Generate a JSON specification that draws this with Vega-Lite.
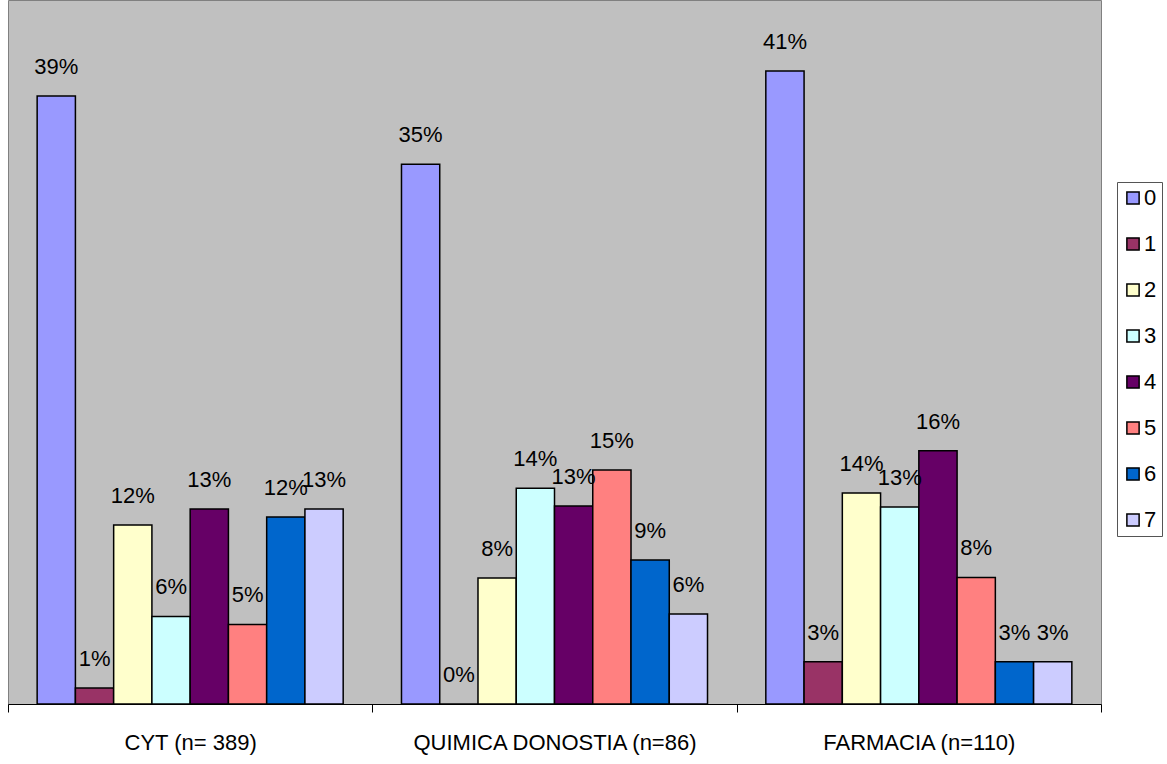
{
  "$schema": "https://vega.github.io/schema/vega-lite/v6.json",
  "width": 1093,
  "height": 704,
  "autosize": {"type": "none"},
  "padding": {"left": 8, "top": 0, "right": 66, "bottom": 60},
  "background": "white",
  "config": {
    "view": {"fill": "#C0C0C0", "stroke": "#808080", "strokeWidth": 1},
    "font": "Liberation Sans"
  },
  "data": {
    "values": [
      {"grupo": "CYT (n= 389)", "cat": "0", "pct": 39.3, "label": "39%"},
      {"grupo": "CYT (n= 389)", "cat": "1", "pct": 1.03, "label": "1%"},
      {"grupo": "CYT (n= 389)", "cat": "2", "pct": 11.57, "label": "12%"},
      {"grupo": "CYT (n= 389)", "cat": "3", "pct": 5.66, "label": "6%"},
      {"grupo": "CYT (n= 389)", "cat": "4", "pct": 12.6, "label": "13%"},
      {"grupo": "CYT (n= 389)", "cat": "5", "pct": 5.14, "label": "5%"},
      {"grupo": "CYT (n= 389)", "cat": "6", "pct": 12.08, "label": "12%"},
      {"grupo": "CYT (n= 389)", "cat": "7", "pct": 12.6, "label": "13%"},
      {"grupo": "QUIMICA DONOSTIA (n=86)", "cat": "0", "pct": 34.88, "label": "35%"},
      {"grupo": "QUIMICA DONOSTIA (n=86)", "cat": "1", "pct": 0, "label": "0%"},
      {"grupo": "QUIMICA DONOSTIA (n=86)", "cat": "2", "pct": 8.14, "label": "8%"},
      {"grupo": "QUIMICA DONOSTIA (n=86)", "cat": "3", "pct": 13.95, "label": "14%"},
      {"grupo": "QUIMICA DONOSTIA (n=86)", "cat": "4", "pct": 12.79, "label": "13%"},
      {"grupo": "QUIMICA DONOSTIA (n=86)", "cat": "5", "pct": 15.12, "label": "15%"},
      {"grupo": "QUIMICA DONOSTIA (n=86)", "cat": "6", "pct": 9.3, "label": "9%"},
      {"grupo": "QUIMICA DONOSTIA (n=86)", "cat": "7", "pct": 5.81, "label": "6%"},
      {"grupo": "FARMACIA (n=110)", "cat": "0", "pct": 40.91, "label": "41%"},
      {"grupo": "FARMACIA (n=110)", "cat": "1", "pct": 2.73, "label": "3%"},
      {"grupo": "FARMACIA (n=110)", "cat": "2", "pct": 13.64, "label": "14%"},
      {"grupo": "FARMACIA (n=110)", "cat": "3", "pct": 12.73, "label": "13%"},
      {"grupo": "FARMACIA (n=110)", "cat": "4", "pct": 16.36, "label": "16%"},
      {"grupo": "FARMACIA (n=110)", "cat": "5", "pct": 8.18, "label": "8%"},
      {"grupo": "FARMACIA (n=110)", "cat": "6", "pct": 2.73, "label": "3%"},
      {"grupo": "FARMACIA (n=110)", "cat": "7", "pct": 2.73, "label": "3%"}
    ]
  },
  "encoding": {
    "x": {
      "field": "grupo",
      "type": "nominal",
      "sort": null,
      "scale": {"paddingInner": 0, "paddingOuter": 0},
      "axis": {
        "title": null,
        "labelAngle": 0,
        "labelFontSize": 22,
        "labelColor": "#000000",
        "labelPadding": 20,
        "labelBaseline": "top",
        "labelLimit": 0,
        "domainColor": "#000000",
        "domainWidth": 1,
        "tickColor": "#000000",
        "tickSize": 8,
        "tickBand": "extent",
        "grid": false
      }
    },
    "xOffset": {
      "field": "cat",
      "type": "nominal",
      "scale": {"paddingInner": 0, "paddingOuter": 0.762}
    },
    "y": {
      "field": "pct",
      "type": "quantitative",
      "scale": {"domain": [0, 45.5], "nice": false, "zero": true},
      "axis": null
    }
  },
  "layer": [
    {
      "mark": {"type": "bar", "stroke": "#000000", "strokeWidth": 1.5},
      "encoding": {
        "color": {
          "field": "cat",
          "type": "nominal",
          "scale": {
            "domain": ["0", "1", "2", "3", "4", "5", "6", "7"],
            "range": ["#9999FF", "#993366", "#FFFFCC", "#CCFFFF", "#660066", "#FF8080", "#0066CC", "#CCCCFF"]
          },
          "legend": {
            "title": null,
            "orient": "none",
            "legendX": 1109,
            "legendY": 182,
            "fillColor": "#FFFFFF",
            "strokeColor": "#555555",
            "padding": 5,
            "symbolType": "square",
            "symbolSize": 150,
            "symbolStrokeColor": "#000000",
            "symbolStrokeWidth": 1.5,
            "symbolOpacity": 1,
            "labelFontSize": 22,
            "labelColor": "#000000",
            "labelOffset": 0,
            "rowPadding": 24
          }
        }
      }
    },
    {
      "mark": {"type": "text", "fontSize": 22, "color": "#000000", "baseline": "alphabetic", "align": "center", "dy": -22},
      "encoding": {
        "text": {"field": "label"}
      }
    }
  ]
}
